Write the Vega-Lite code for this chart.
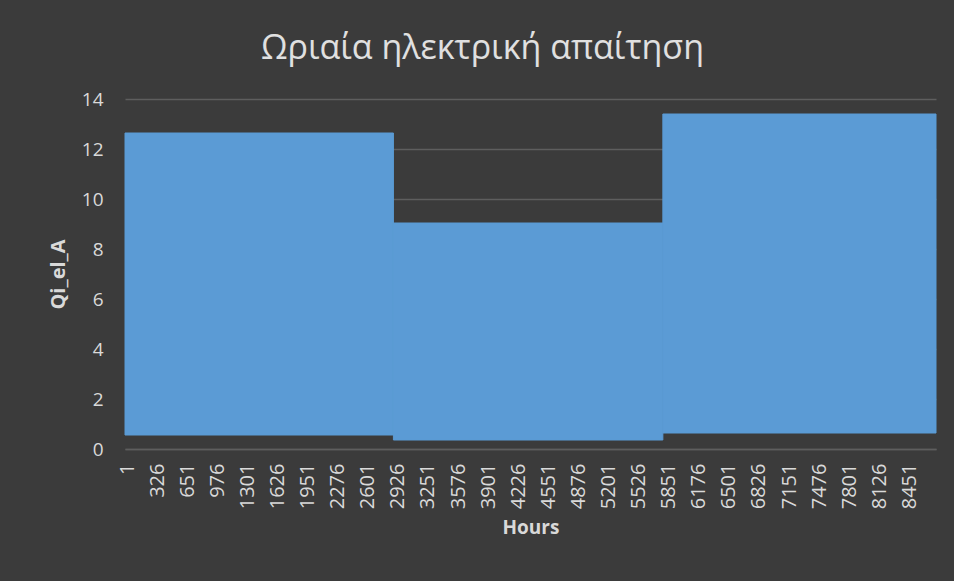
{
  "$schema": "https://vega.github.io/schema/vega-lite/v6.json",
  "width": 811,
  "height": 350,
  "autosize": {"type": "none"},
  "padding": {"left": 125, "top": 99, "right": 18, "bottom": 132},
  "background": "#3b3b3b",
  "title": {
    "text": "Ωριαία ηλεκτρική απαίτηση",
    "font": "Open Sans",
    "fontSize": 34,
    "fontWeight": "normal",
    "color": "#e0e0e0",
    "anchor": "middle",
    "dx": -48,
    "offset": 24
  },
  "config": {
    "view": {"stroke": null},
    "font": "Open Sans"
  },
  "data": {
    "values": [
      {"start": 1, "end": 2900, "low": 0.56, "high": 12.64},
      {"start": 2900, "end": 5810, "low": 0.36, "high": 9.04},
      {"start": 5810, "end": 8760, "low": 0.64, "high": 13.4}
    ]
  },
  "mark": {"type": "rect", "color": "#5B9BD5", "stroke": "#5B9BD5", "strokeWidth": 1},
  "encoding": {
    "x": {
      "field": "start",
      "type": "quantitative",
      "title": "Hours",
      "scale": {"domain": [1, 8760], "nice": false, "zero": false},
      "axis": {
        "values": [1, 326, 651, 976, 1301, 1626, 1951, 2276, 2601, 2926, 3251, 3576, 3901, 4226, 4551, 4876, 5201, 5526, 5851, 6176, 6501, 6826, 7151, 7476, 7801, 8126, 8451],
        "format": "d",
        "labelAngle": -90,
        "labelAlign": "right",
        "labelBaseline": "middle",
        "labelOffset": 2,
        "labelPadding": 14,
        "labelFontSize": 20,
        "labelColor": "#d9d9d9",
        "labelOverlap": false,
        "labelFlush": false,
        "ticks": false,
        "grid": false,
        "domain": true,
        "domainColor": "#5e5e5e",
        "domainWidth": 1.5,
        "titleFontSize": 19,
        "titleFontWeight": "bold",
        "titleColor": "#d9d9d9",
        "titlePadding": 10
      }
    },
    "x2": {"field": "end"},
    "y": {
      "field": "low",
      "type": "quantitative",
      "title": "Qi_el_A",
      "scale": {"domain": [0, 14], "nice": false},
      "axis": {
        "values": [0, 2, 4, 6, 8, 10, 12, 14],
        "labelFontSize": 19,
        "labelColor": "#d9d9d9",
        "labelPadding": 22,
        "ticks": false,
        "domain": false,
        "grid": true,
        "gridColor": "#5e5e5e",
        "gridWidth": 1.5,
        "titleFontSize": 20,
        "titleFontWeight": "bold",
        "titleColor": "#d9d9d9",
        "titlePadding": 13
      }
    },
    "y2": {"field": "high"}
  }
}
